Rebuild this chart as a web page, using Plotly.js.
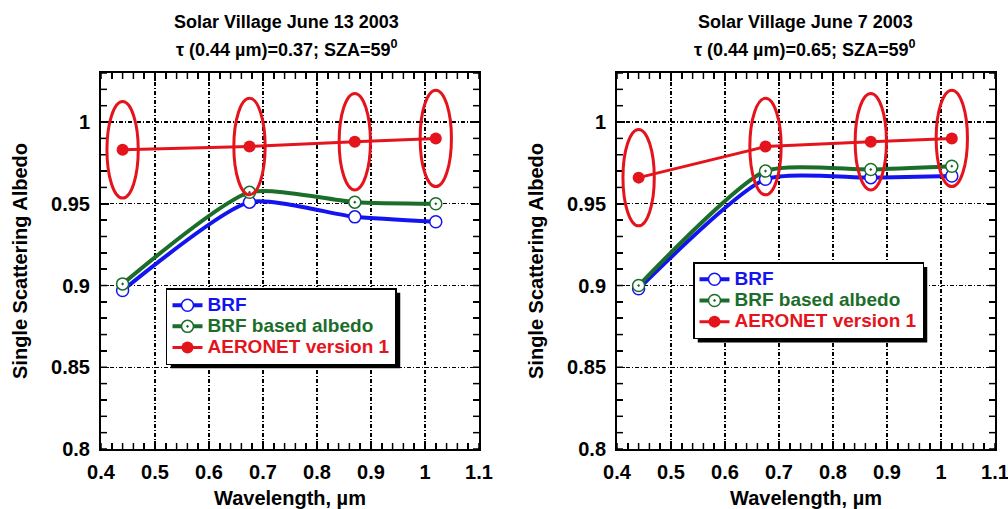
<!DOCTYPE html>
<html>
<head>
<meta charset="utf-8">
<script src="https://cdn.plot.ly/plotly-3.0.1.min.js"></script>
<style>
  html, body { margin: 0; padding: 0; background: #fff; }
  #chart { width: 1008px; height: 509px; }
</style>
</head>
<body>
<div id="chart"></div>
<script>
// Single scattering albedo retrieved at Solar Village, two June 2003 days
const wavelengths = [0.44, 0.675, 0.87, 1.02];

const brfJune13 = [0.897, 0.951, 0.942, 0.939];
const brfAlbedoJune13 = [0.901, 0.957, 0.951, 0.950];
const aeronetJune13 = [0.983, 0.985, 0.988, 0.990];

const brfJune7 = [0.898, 0.965, 0.966, 0.967];
const brfAlbedoJune7 = [0.900, 0.970, 0.971, 0.973];
const aeronetJune7 = [0.966, 0.985, 0.988, 0.990];

const seriesNames = ['BRF', 'BRF based albedo', 'AERONET version 1'];
const panelTitles = ['Solar Village June 13 2003', 'Solar Village June 7 2003'];
const panelSubtitles = [
  '\u03C4 (0.44 \u00B5m)=0.37; SZA=59<sup>0</sup>',
  '\u03C4 (0.44 \u00B5m)=0.65; SZA=59<sup>0</sup>'
];

const xTickVals = [0.4, 0.5, 0.6, 0.7, 0.8, 0.9, 1, 1.1];
const xTickText = ['0.4', '0.5', '0.6', '0.7', '0.8', '0.9', '1', '1.1'];
const yTickVals = [0.8, 0.85, 0.9, 0.95, 1];
const yTickText = ['0.8', '0.85', '0.9', '0.95', '1'];

const X_RANGE = [0.4, 1.1];
const Y_RANGE = [0.8, 1.03];

// minor tick positions: every 0.02 on x, every 0.01 on y
function steps(from, to, step) {
  const out = [];
  for (let k = 0; from + k * step <= to + 1e-9; k++) out.push(+(from + k * step).toFixed(4));
  return out;
}
const xMinorVals = steps(X_RANGE[0], X_RANGE[1], 0.02);
const yMinorVals = steps(Y_RANGE[0], Y_RANGE[1], 0.01);

const FONT = 'Liberation Sans, Arial, sans-serif';
const BLUE = '#1414f0';
const GREEN = '#1b6e2a';
const RED = '#e5141c';

// page geometry (margins) used for paper coordinates
const M = { l: 101, r: 13, t: 73, b: 60 };
const W = 1008, H = 509;
const PW = W - M.l - M.r, PH = H - M.t - M.b;
const X_DOMAINS = [[0, 0.4228], [0.5772, 1]];

function legendName(color, text) {
  return '<span style="color:' + color + ';font-size:19px">' + text + '</span>';
}

function panelTraces(xa, ya, legendId, brf, albedo, aeronet) {
  return [
    { x: wavelengths, y: brf, xaxis: xa, yaxis: ya, legend: legendId,
      name: legendName(BLUE, seriesNames[0]), mode: 'lines+markers',
      line: { color: BLUE, width: 4, shape: 'spline', smoothing: 0.6 },
      marker: { symbol: 'circle', size: 12, color: '#ffffff', line: { color: BLUE, width: 1.5 } } },
    { x: wavelengths, y: albedo, xaxis: xa, yaxis: ya, legend: legendId,
      name: legendName(GREEN, seriesNames[1]), mode: 'lines+markers',
      line: { color: GREEN, width: 4, shape: 'spline', smoothing: 0.6 },
      marker: { symbol: 'circle-dot', size: 12, color: '#ffffff', line: { color: GREEN, width: 1.5 } } },
    { x: wavelengths, y: aeronet, xaxis: xa, yaxis: ya, legend: legendId,
      name: legendName(RED, seriesNames[2]), mode: 'lines+markers',
      line: { color: RED, width: 3 },
      marker: { symbol: 'circle', size: 12, color: RED } }
  ];
}

const traces = [].concat(
  panelTraces('x', 'y', 'legend', brfJune13, brfAlbedoJune13, aeronetJune13),
  panelTraces('x2', 'y2', 'legend2', brfJune7, brfAlbedoJune7, aeronetJune7)
);

// ellipses ringing each AERONET point
const ELL_HX = 0.029, ELL_HY = 0.0295;
function ellipses(xref, yref, ys) {
  return wavelengths.map((w, i) => ({
    type: 'circle', xref: xref, yref: yref,
    x0: w - ELL_HX, x1: w + ELL_HX, y0: ys[i] - ELL_HY, y1: ys[i] + ELL_HY,
    line: { color: RED, width: 3 }, layer: 'above'
  }));
}

// short inward minor ticks on all four sides of a frame
const MINOR_LEN = 6;
function minorTicks(xa, ya, panel) {
  const dom = X_DOMAINS[panel];
  const fy = MINOR_LEN / PH;
  const fx = MINOR_LEN / ((dom[1] - dom[0]) * PW);
  const tick = { type: 'line', line: { color: '#000', width: 1.5 }, layer: 'above' };
  const out = [];
  xMinorVals.forEach(v => {
    out.push(Object.assign({}, tick, { xref: xa, yref: ya + ' domain', x0: v, x1: v, y0: 0, y1: fy }));
    out.push(Object.assign({}, tick, { xref: xa, yref: ya + ' domain', x0: v, x1: v, y0: 1 - fy, y1: 1 }));
  });
  yMinorVals.forEach(v => {
    out.push(Object.assign({}, tick, { xref: xa + ' domain', yref: ya, x0: 0, x1: fx, y0: v, y1: v }));
    out.push(Object.assign({}, tick, { xref: xa + ' domain', yref: ya, x0: 1 - fx, x1: 1, y0: v, y1: v }));
  });
  return out;
}

const axisFont = { family: FONT, size: 20, color: '#000', weight: 'bold' };

function xAxis(domain, anchor) {
  return {
    domain: domain, anchor: anchor, range: X_RANGE,
    tickmode: 'array', tickvals: xTickVals, ticktext: xTickText,
    ticks: 'inside', ticklen: 8, tickwidth: 1.5, tickcolor: '#000',
    ticklabelstandoff: 4, ticklabeloverflow: 'allow',
    minor: { dtick: 0.02, ticks: 'inside', ticklen: MINOR_LEN, tickcolor: '#000' },
    showline: true, linecolor: '#000', linewidth: 2, mirror: 'allticks',
    showgrid: true, gridcolor: '#000', gridwidth: 1.4, griddash: '4px,2px,1px,2px',
    zeroline: false, tickfont: axisFont,
    title: { text: 'Wavelength, \u00B5m', standoff: 11, font: axisFont },
    automargin: false
  };
}

function yAxis(anchor) {
  return {
    domain: [0, 1], anchor: anchor, range: Y_RANGE,
    tickmode: 'array', tickvals: yTickVals, ticktext: yTickText,
    ticks: 'inside', ticklen: 8, tickwidth: 1.5, tickcolor: '#000',
    ticklabelstandoff: 5, ticklabeloverflow: 'allow',
    minor: { dtick: 0.01, ticks: 'inside', ticklen: MINOR_LEN, tickcolor: '#000' },
    showline: true, linecolor: '#000', linewidth: 2, mirror: 'allticks',
    showgrid: true, gridcolor: '#000', gridwidth: 1.4, griddash: '4px,2px,1px,2px',
    zeroline: false, tickfont: axisFont,
    title: { text: 'Single Scattering Albedo', standoff: 18, font: axisFont },
    automargin: false
  };
}

const legendStyle = (x, y) => ({
  x: x, y: y, xanchor: 'left', yanchor: 'top',
  bgcolor: '#ffffff', bordercolor: '#000', borderwidth: 1.5,
  font: { family: FONT, size: 14, weight: 'bold', color: '#000' },
  tracegroupgap: 0, itemwidth: 30
});

const titleFont = { family: FONT, size: 18, color: '#000', weight: 'bold' };
function titleAnnotations(xc, i) {
  return [
    { text: panelTitles[i], x: xc, y: 1.136, xref: 'paper', yref: 'paper', showarrow: false,
      xanchor: 'center', yanchor: 'middle', font: titleFont },
    { text: panelSubtitles[i], x: xc, y: 1.066, xref: 'paper', yref: 'paper', showarrow: false,
      xanchor: 'center', yanchor: 'middle', font: titleFont }
  ];
}

const baseShapes = [].concat(
  minorTicks('x', 'y', 0), minorTicks('x2', 'y2', 1),
  ellipses('x', 'y', aeronetJune13), ellipses('x2', 'y2', aeronetJune7)
);

const layout = {
  width: W, height: H, margin: M,
  paper_bgcolor: '#fff', plot_bgcolor: '#fff', showlegend: true,
  xaxis: xAxis(X_DOMAINS[0], 'y'), yaxis: yAxis('x'),
  xaxis2: xAxis(X_DOMAINS[1], 'y2'), yaxis2: yAxis('x2'),
  legend: legendStyle(0.0727, 0.428), legend2: legendStyle(0.6622, 0.497),
  shapes: baseShapes,
  annotations: [].concat(titleAnnotations(0.208, 0), titleAnnotations(0.7875, 1))
};

// drop shadow under each legend box, sized from the rendered legend
const SHADOW = 4;
Plotly.newPlot('chart', traces, layout, { displayModeBar: false, staticPlot: true }).then(gd => {
  const origin = gd.getBoundingClientRect();
  const shadows = [];
  ['legend', 'legend2'].forEach(id => {
    const bg = gd.querySelector('g.' + id + ' rect.bg');
    if (!bg) return;
    const r = bg.getBoundingClientRect();
    const left = r.left - origin.left + SHADOW, right = r.right - origin.left + SHADOW;
    const top = r.top - origin.top + SHADOW, bottom = r.bottom - origin.top + SHADOW;
    shadows.push({
      type: 'rect', xref: 'paper', yref: 'paper', layer: 'above',
      x0: (left - M.l) / PW, x1: (right - M.l) / PW,
      y0: 1 - (top - M.t) / PH, y1: 1 - (bottom - M.t) / PH,
      fillcolor: '#000', line: { width: 0 }
    });
  });
  return Plotly.relayout(gd, { shapes: shadows.concat(baseShapes) });
});
</script>
</body>
</html>
